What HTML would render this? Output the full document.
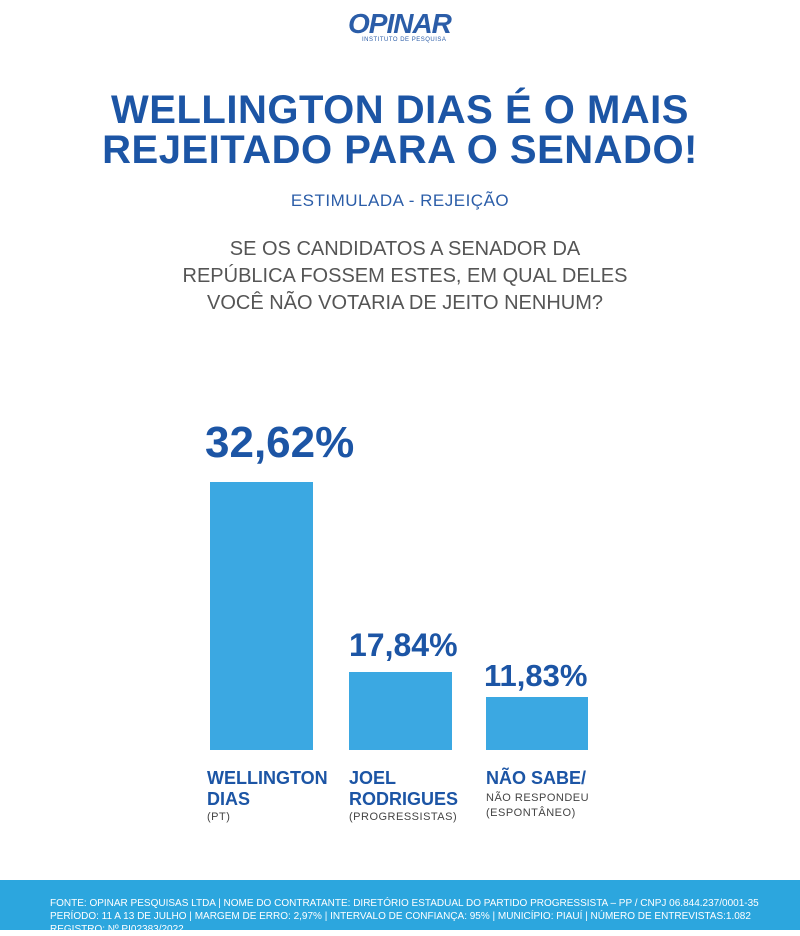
<!DOCTYPE html>
<html><head><meta charset="utf-8"><style>
body{margin:0;width:800px;height:930px;background:#fff;position:relative;overflow:hidden;font-family:"Liberation Sans",sans-serif}
.a{position:absolute}
.t{left:0;width:800px;text-align:center;color:#1c55a5;font-weight:900;font-size:40px;line-height:40px;letter-spacing:0.5px}
.bar{background:#3ba8e2;position:absolute}
.pct{position:absolute;color:#1c55a5;font-weight:900}
.lb{position:absolute;color:#1c55a5;font-weight:900;font-size:18px;line-height:21px}
.sm{font-size:11px;font-weight:400;color:#444;line-height:15px;letter-spacing:0.5px}
</style></head><body>
<div class="a" style="left:348px;top:8px;font-size:28px;font-weight:900;font-style:italic;color:#2b5da8;letter-spacing:-1px">OPINAR</div>
<div class="a" style="left:362px;top:37px;font-size:6px;color:#2b5da8;letter-spacing:0.5px">INSTITUTO DE PESQUISA</div>
<div class="a t" style="top:90px">WELLINGTON DIAS É O MAIS</div>
<div class="a t" style="top:130px">REJEITADO PARA O SENADO!</div>
<div class="a" style="left:0;width:800px;text-align:center;top:191px;font-size:17px;color:#2b5da8;letter-spacing:0.5px">ESTIMULADA - REJEIÇÃO</div>
<div class="a" style="left:0;width:810px;text-align:center;top:236px;font-size:20px;line-height:27px;color:#555">SE OS CANDIDATOS A SENADOR DA<br>REPÚBLICA FOSSEM ESTES, EM QUAL DELES<br>VOCÊ NÃO VOTARIA DE JEITO NENHUM?</div>
<div class="pct" style="left:205px;top:418px;font-size:44px">32,62%</div>
<div class="pct" style="left:349px;top:627px;font-size:32px">17,84%</div>
<div class="pct" style="left:484px;top:658px;font-size:31px">11,83%</div>
<div class="bar" style="left:210px;top:482px;width:103px;height:268px"></div>
<div class="bar" style="left:349px;top:672px;width:103px;height:78px"></div>
<div class="bar" style="left:486px;top:697px;width:102px;height:53px"></div>
<div class="lb" style="left:207px;top:768px">WELLINGTON<br>DIAS<div class="sm">(PT)</div></div>
<div class="lb" style="left:349px;top:768px">JOEL<br>RODRIGUES<div class="sm">(PROGRESSISTAS)</div></div>
<div class="lb" style="left:486px;top:768px">NÃO SABE/<div class="sm" style="margin-top:2px">NÃO RESPONDEU<br>(ESPONTÂNEO)</div></div>
<div class="a" style="left:0;top:880px;width:800px;height:50px;background:#2ca6de"></div>
<div class="a" style="left:50px;top:897px;font-size:10px;line-height:13px;color:#fff;white-space:nowrap">FONTE: OPINAR PESQUISAS LTDA | NOME DO CONTRATANTE: DIRETÓRIO ESTADUAL DO PARTIDO PROGRESSISTA – PP / CNPJ 06.844.237/0001-35<br>PERÍODO: 11 A 13 DE JULHO | MARGEM DE ERRO: 2,97% | INTERVALO DE CONFIANÇA: 95% | MUNICÍPIO: PIAUÍ | NÚMERO DE ENTREVISTAS:1.082<br>REGISTRO: Nº PI02383/2022</div>
</body></html>
